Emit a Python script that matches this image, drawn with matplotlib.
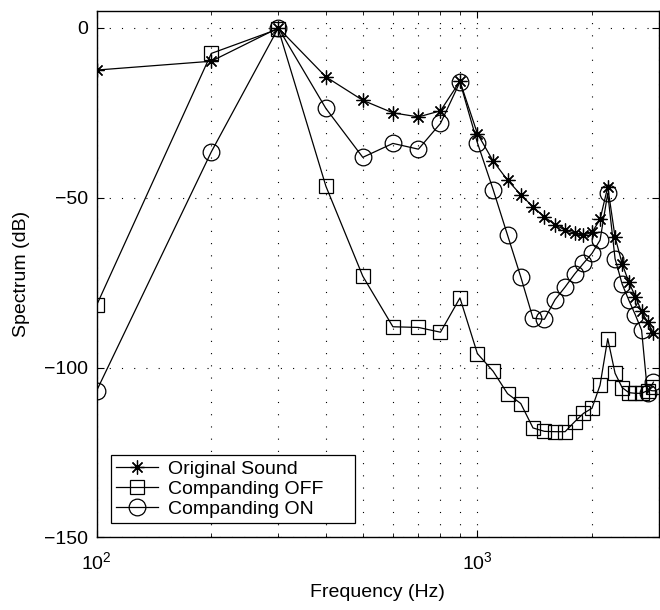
import matplotlib.pyplot as plt
from matplotlib.ticker import LogLocator, NullFormatter

plt.rcParams['font.family'] = ['Liberation Sans', 'DejaVu Sans']

# frecuencias (Hz) de los armonicos
freq = [100, 200, 300, 400, 500, 600, 700, 800, 900, 1000,
        1100, 1200, 1300, 1400, 1500, 1600, 1700, 1800, 1900, 2000,
        2100, 2200, 2300, 2400, 2500, 2600, 2700, 2800, 2900]

original = [-12.4, -9.8, 0, -14.4, -21.3, -25.0, -26.2, -24.4, -15.7, -31.1,
            -39.2, -44.8, -49.1, -52.7, -55.6, -58.0, -59.5, -60.5, -61.0, -60.2,
            -56.4, -46.8, -61.6, -69.4, -74.9, -79.1, -83.5, -86.6, -89.8]

comp_off = [-81.6, -7.5, -0.3, -46.6, -73.1, -88.0, -88.2, -89.6, -79.5, -95.9,
            -101.1, -107.7, -110.6, -117.8, -118.8, -118.9, -118.9, -116.0, -113.5, -112.0,
            -105.2, -91.5, -101.7, -105.9, -107.4, -107.6, -107.6, -106.8, -105.6]

comp_on = [-106.8, -36.5, 0, -23.7, -38.1, -34.0, -35.7, -28.1, -15.9, -33.8,
           -47.6, -61.0, -73.3, -85.5, -85.8, -80.0, -76.3, -72.5, -69.3, -66.4,
           -62.5, -48.7, -68.0, -75.4, -80.2, -84.5, -89.0, -107.6, -104.3]

fig = plt.figure(figsize=(6.6, 6.1), dpi=100)
ax = fig.add_axes([0.1465, 0.1192, 0.852, 0.8628])

estrella = (8, 2, 0)
ax.plot(freq, original, color='k', lw=0.9, marker=estrella, ms=10, mew=0.9,
        label='Original Sound')
ax.plot(freq, comp_off, color='k', lw=0.9, marker='s', ms=10, mew=0.9,
        mfc='none', label='Companding OFF')
ax.plot(freq, comp_on, color='k', lw=0.9, marker='o', ms=12, mew=0.9,
        mfc='none', label='Companding ON')

ax.set_xscale('log')
ax.set_xlim(100, 3000)
ax.set_ylim(-150, 5)
ax.set_yticks([-150, -100, -50, 0])
ax.xaxis.set_major_locator(LogLocator(base=10))
ax.xaxis.set_minor_locator(LogLocator(base=10, subs=range(2, 10)))
ax.xaxis.set_minor_formatter(NullFormatter())

ax.tick_params(which='both', direction='in', top=True, right=True,
               labelsize=14, colors='k')
ax.tick_params(which='major', length=5)
ax.tick_params(which='minor', length=3)
ax.tick_params(axis='x', pad=10)
ax.tick_params(axis='y', pad=6)

ax.grid(True, which='major', axis='both', color='k', lw=0.8,
        linestyle=(0, (1, 10)))
ax.grid(True, which='minor', axis='x', color='k', lw=0.8,
        linestyle=(0, (1, 10)))
for s in ax.spines.values():
    s.set_linewidth(1.0)

ax.set_xlabel('Frequency (Hz)', fontsize=14, labelpad=8)
ax.set_ylabel('Spectrum (dB)', fontsize=14, labelpad=10)

# leyenda abajo a la izquierda, un poco mas ancha como en MATLAB
leg = ax.legend(loc='lower left', bbox_to_anchor=(0.025, 0.028, 0.434, 0.1),
                mode='expand', fontsize=14,
                fancybox=False, framealpha=1, edgecolor='k', handlelength=2.2,
                borderpad=0.25, labelspacing=0.12, handletextpad=0.5,
                borderaxespad=0)
leg.get_frame().set_linewidth(0.9)

fig.savefig('out.png', dpi=100)
